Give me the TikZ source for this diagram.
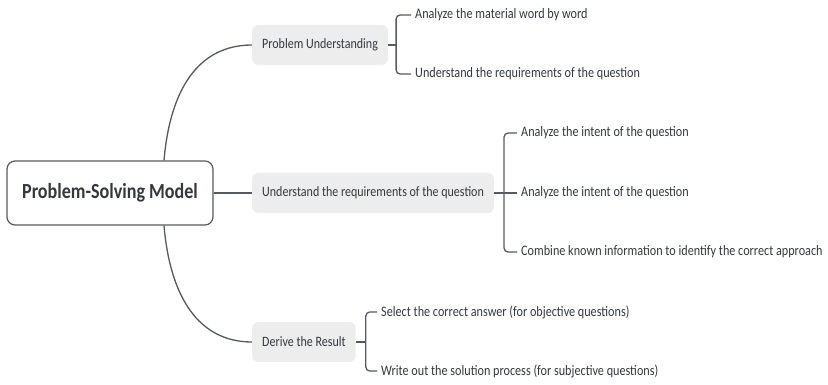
\documentclass[tikz,border=0pt]{standalone}
\usepackage{fontspec}
\setmainfont{Carlito}[FakeStretch=0.84]
\usetikzlibrary{positioning}
\definecolor{linegray}{HTML}{555A61}
\definecolor{textgray}{HTML}{33383F}
\definecolor{boxgray}{HTML}{EDEDED}
\begin{document}
\begin{tikzpicture}[x=1pt,y=-1pt,
    rootbox/.style={draw=linegray, line width=1.2pt, fill=white, rounded corners=8pt,
        font=\fontsize{21.5}{25}\selectfont\bfseries, text=textgray,
        minimum width=206pt, minimum height=64pt},
    topic/.style={fill=boxgray, rounded corners=6pt, font=\fontsize{14.3}{16}\selectfont,
        text=textgray, minimum height=40pt, inner xsep=10pt},
    leaf/.style={anchor=west, inner sep=4pt, font=\fontsize{14.5}{16}\selectfont, text=textgray},
    link/.style={draw=linegray, line width=1.3pt},
    brace/.style={link, rounded corners=4pt}]
    \useasboundingbox (0,0) rectangle (828,385);

    % main nodes
    \node[rootbox] (root) at (110,193) {Problem-Solving Model};
    \node[topic, anchor=west] (pu) at (252,45) {Problem Understanding};
    \node[topic, anchor=west] (ur) at (252,193) {Understand the requirements of the question};
    \node[topic, anchor=west] (dr) at (252,342) {Derive the Result};

    % leaves
    \node[leaf] (pu1) at (411,15) {Analyze the material word by word};
    \node[leaf] (pu2) at (411,74) {Understand the requirements of the question};
    \node[leaf] (ur1) at (517,133) {Analyze the intent of the question};
    \node[leaf] (ur2) at (517,193) {Analyze the intent of the question};
    \node[leaf] (ur3) at (517,252) {Combine known information to identify the correct approach};
    \node[leaf] (dr1) at (377,312) {Select the correct answer (for objective questions)};
    \node[leaf] (dr2) at (377,371) {Write out the solution process (for subjective questions)};

    % root to topics
    \coordinate (rtop) at ([xshift=54pt]root.north);
    \coordinate (rbot) at ([xshift=54pt]root.south);
    \draw[link] (rtop) .. controls (170,90) and (198,45) .. (pu.west);
    \draw[link] (root.east) -- (ur.west);
    \draw[link] (rbot) .. controls (170,296) and (198,342) .. (dr.west);

    % braces
    \draw[link] (pu.east) -- ++(8,0) coordinate (pub);
    \draw[brace] (pu1.west) -| (pub) |- (pu2.west);
    \draw[link] (ur.east) -- (ur2.west);
    \coordinate (urb) at ([xshift=10pt]ur.east);
    \draw[brace] (ur1.west) -| (urb) |- (ur3.west);
    \draw[link] (dr.east) -- ++(10,0) coordinate (drb);
    \draw[brace] (dr1.west) -| (drb) |- (dr2.west);
\end{tikzpicture}
\end{document}
